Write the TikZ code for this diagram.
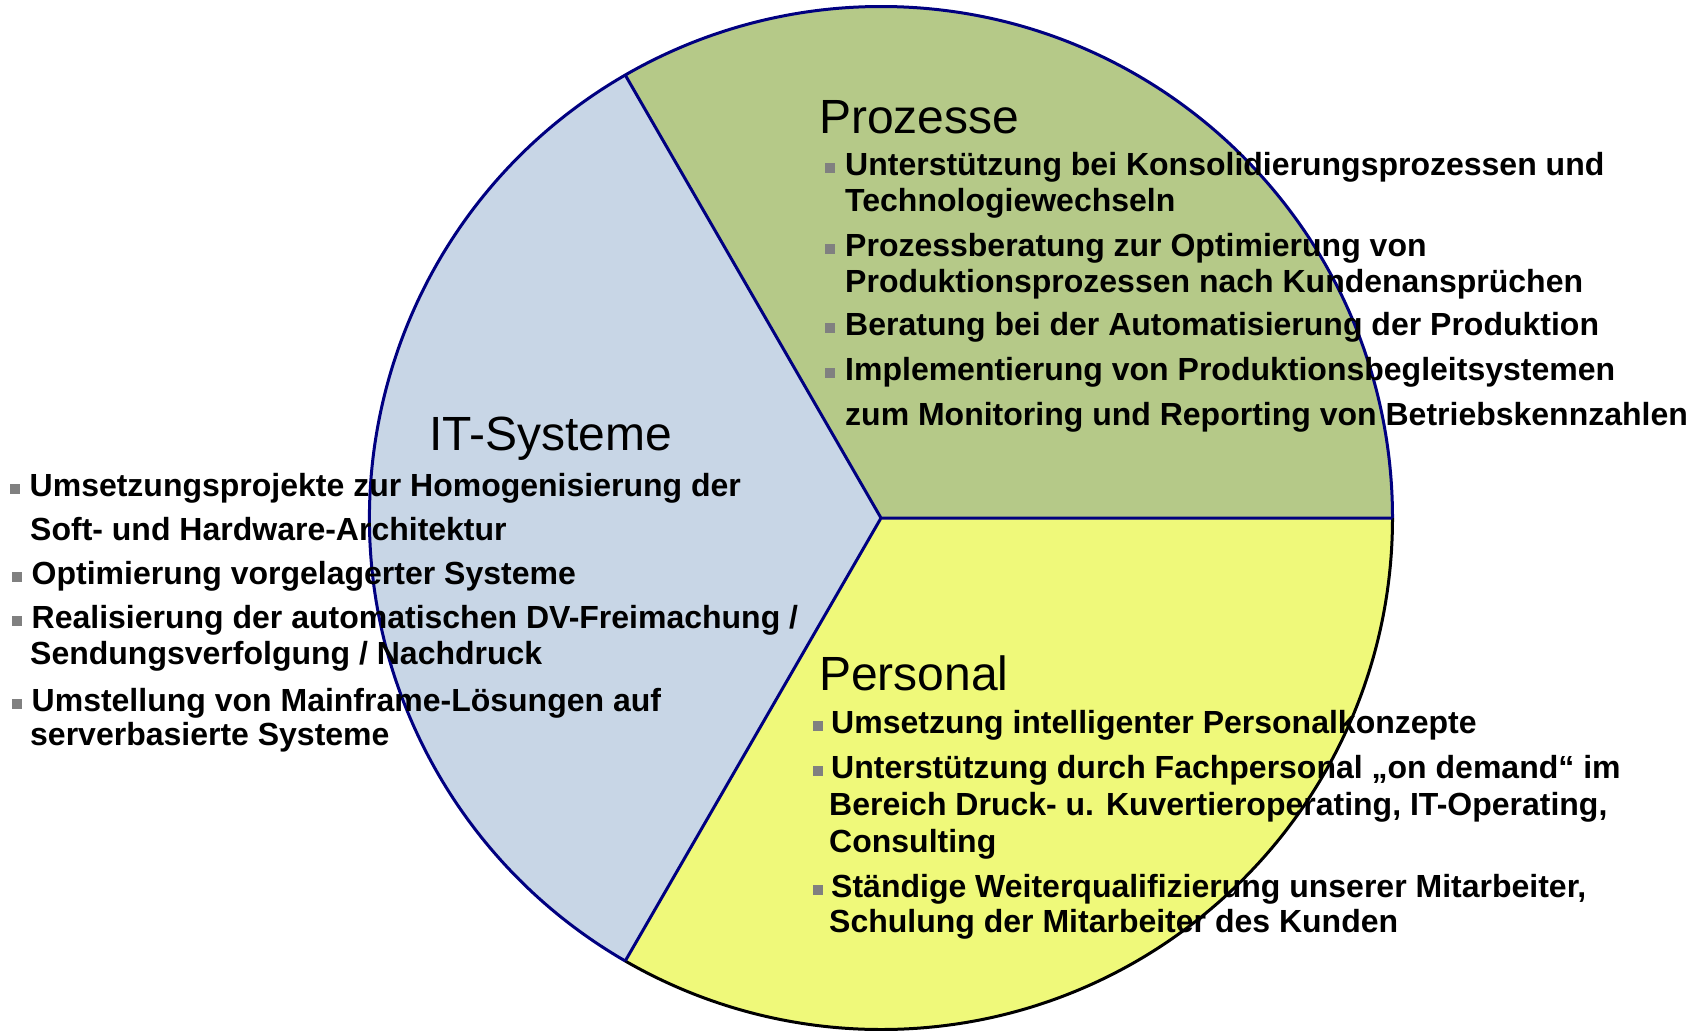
\documentclass[tikz,border=0pt]{standalone}
\usepackage{fontspec}
\setmainfont{Liberation Sans}
\definecolor{itblue}{RGB}{200,214,230}
\definecolor{progreen}{RGB}{181,201,136}
\definecolor{peryellow}{RGB}{239,249,122}
\definecolor{navyline}{RGB}{0,0,128}
\definecolor{bulletgray}{RGB}{128,128,128}
\begin{document}
\begin{tikzpicture}[x=1pt,y=-1pt,
  ttl/.style={anchor=base west, inner sep=0pt, font=\fontsize{48}{48}\selectfont},
  itm/.style={anchor=base west, inner sep=0pt, font=\bfseries\fontsize{32}{36}\selectfont},
  bul/.style={fill=bulletgray, minimum size=10pt, inner sep=0pt, anchor=south west},
  rim/.style={line width=3pt}]
\useasboundingbox (0,0) rectangle (1698,1031);
\def\R{511.5}
\coordinate (c) at (881,518);
\coordinate (A) at ([shift={(240:\R)}]c);
\coordinate (B) at ([shift={(120:\R)}]c);
\coordinate (Rt) at ([shift={(0:\R)}]c);
% sectors
\fill[itblue] (c) -- (A) arc[start angle=240, end angle=120, radius=\R] -- cycle;
\fill[progreen] (c) -- (Rt) arc[start angle=360, end angle=240, radius=\R] -- cycle;
\fill[peryellow] (c) -- (Rt) arc[start angle=0, end angle=120, radius=\R] -- cycle;
% rims
\draw[rim, navyline] (A) arc[start angle=240, end angle=120, radius=\R];
\draw[rim, navyline] (Rt) arc[start angle=360, end angle=240, radius=\R];
\draw[rim, black] (Rt) arc[start angle=0, end angle=120, radius=\R];
\draw[rim, navyline, line join=miter] (A) -- (c) -- (B) (c) -- (Rt);
% Prozesse
\node[ttl] (tp) at (819,133) {Prozesse};
\node[itm] (p1a) at (845,175) {Unterstützung bei Konsolidierungsprozessen und};
\node[itm] (p1b) at (845,211) {Technologiewechseln};
\node[itm] (p2a) at (845,256) {Prozessberatung zur Optimierung von};
\node[itm] (p2b) at (845,292) {Produktionsprozessen nach Kundenansprüchen};
\node[itm] (p3) at (845,335) {Beratung bei der Automatisierung der Produktion};
\node[itm] (p4a) at (845,380) {Implementierung von Produktionsbegleitsystemen};
\node[itm] (p4b) at (845,425) {zum Monitoring und Reporting von Betriebskennzahlen};
\foreach \n in {p1a,p2a,p3,p4a}
  \node[bul] (b\n) at ([xshift=-20pt,yshift=1.5pt]\n.base west) {};
% IT-Systeme
\node[ttl] (ti) at (429,450) {IT-Systeme};
\node[itm] (i1a) at (29.5,496) {Umsetzungsprojekte zur Homogenisierung der};
\node[itm] (i1b) at (30,540) {Soft- und Hardware-Architektur};
\node[itm] (i2) at (31.5,584) {Optimierung vorgelagerter Systeme};
\node[itm] (i3a) at (31.5,628) {Realisierung der automatischen DV-Freimachung /};
\node[itm] (i3b) at (30,664) {Sendungsverfolgung / Nachdruck};
\node[itm] (i4a) at (31.5,711) {Umstellung von Mainframe-Lösungen auf};
\node[itm] (i4b) at (30,745) {serverbasierte Systeme};
\foreach \n in {i1a,i2,i3a,i4a}
  \node[bul] (b\n) at ([xshift=-19.5pt,yshift=1.5pt]\n.base west) {};
% Personal
\node[ttl] (tq) at (819,690) {Personal};
\node[itm] (q1) at (831,733) {Umsetzung intelligenter Personalkonzepte};
\node[itm] (q2a) at (831,778) {Unterstützung durch Fachpersonal „on demand“ im};
\node[itm] (q2b) at (829,815) {Bereich Druck- u. Kuvertieroperating, IT-Operating,};
\node[itm] (q2c) at (829,852) {Consulting};
\node[itm] (q3a) at (831,897) {Ständige Weiterqualifizierung unserer Mitarbeiter,};
\node[itm] (q3b) at (829,932) {Schulung der Mitarbeiter des Kunden};
\foreach \n in {q1,q2a,q3a}
  \node[bul] (b\n) at ([xshift=-18pt,yshift=1.5pt]\n.base west) {};
\end{tikzpicture}
\end{document}
